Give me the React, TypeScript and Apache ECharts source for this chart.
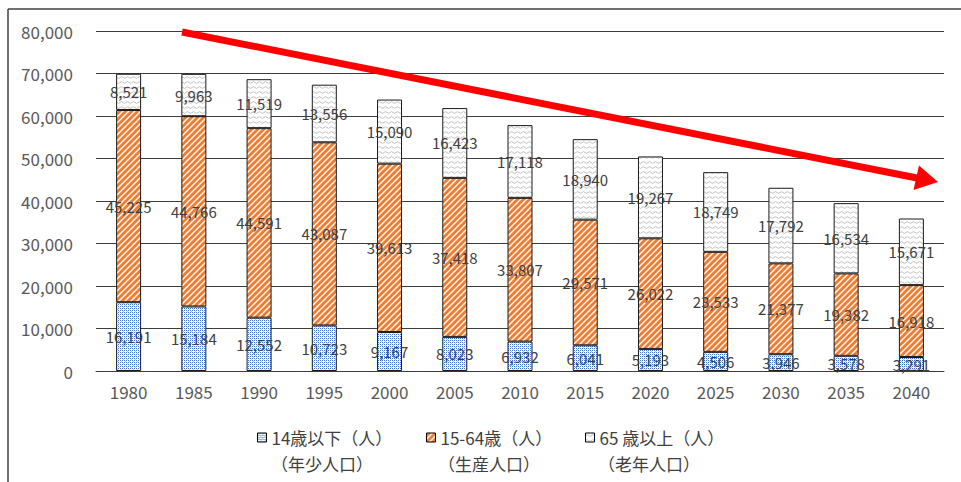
import React, { useEffect, useRef } from "react";
import * as echarts from "echarts";

const years = ["1980", "1985", "1990", "1995", "2000", "2005", "2010", "2015", "2020", "2025", "2030", "2035", "2040"];
const young = [16191, 15184, 12552, 10723, 9167, 8023, 6932, 6041, 5193, 4506, 3946, 3578, 3291];
const working = [45225, 44766, 44591, 43087, 39613, 37418, 33807, 29571, 26022, 23533, 21377, 19382, 16918];
const elderly = [8521, 9963, 11519, 13556, 15090, 16423, 17118, 18940, 19267, 18749, 17792, 16534, 15671];
const seriesNames = ["14歳以下（人）", "15-64歳（人）", "65 歳以上（人）"];
const subNames = ["（年少人口）", "（生産人口）", "（老年人口）"];

const FONT = '"Noto Sans CJK JP", "Noto Sans", sans-serif';

function svgUrl(svg: string) {
  return "data:image/svg+xml;charset=utf-8," + encodeURIComponent(svg);
}

const dotPattern = {
  image: svgUrl(
    '<svg xmlns="http://www.w3.org/2000/svg" width="4" height="4"><rect width="4" height="4" fill="#ffffff"/>' +
      '<rect x="0" y="0" width="1" height="1" fill="#4472c4"/><rect x="2" y="0" width="1" height="1" fill="#4472c4"/>' +
      '<rect x="0" y="2" width="1" height="1" fill="#4472c4"/><rect x="2" y="2" width="1" height="1" fill="#4472c4"/>' +
      '<rect x="1" y="1" width="1" height="1" fill="#b4c6e7"/><rect x="3" y="3" width="1" height="1" fill="#b4c6e7"/></svg>'
  ),
  imageWidth: 4,
  imageHeight: 4,
  repeat: "repeat",
};

const stripePattern = {
  image: svgUrl(
    '<svg xmlns="http://www.w3.org/2000/svg" width="6" height="6"><rect width="6" height="6" fill="#ed7d31"/><path d="M-1,1 L1,-1 M0,6 L6,0 M5,7 L7,5" stroke="#ffffff" stroke-width="1.4"/></svg>'
  ),
  imageWidth: 6,
  imageHeight: 6,
  repeat: "repeat",
};

const wavePattern = {
  image: svgUrl(
    '<svg xmlns="http://www.w3.org/2000/svg" width="6" height="5"><rect width="6" height="5" fill="#ffffff"/><path d="M0,2.5 Q1.5,0.8 3,2.5 T6,2.5" fill="none" stroke="#b8b8b8" stroke-width="0.9"/></svg>'
  ),
  imageWidth: 6,
  imageHeight: 5,
  repeat: "repeat",
};

const patterns = [dotPattern, stripePattern, wavePattern];
const datasets = [young, working, elderly];

function fmt(v: number) {
  return v.toLocaleString("en-US");
}

export default function App() {
  const ref = useRef<HTMLDivElement>(null);

  useEffect(() => {
    document.body.style.margin = "0";
    if (!ref.current) return;
    const chart = echarts.init(ref.current, undefined, { renderer: "svg" });

    const legendLefts = [252, 421, 580];
    const subLefts = [271, 438, 598];

    const option: any = {
      animation: false,
      backgroundColor: "#ffffff",
      textStyle: { fontFamily: FONT },
      grid: { left: 96, right: 17, top: 31, bottom: 111, containLabel: false },
      xAxis: {
        type: "category",
        data: years,
        axisTick: { show: false },
        axisLine: { lineStyle: { color: "#3c3c3c", width: 1 } },
        axisLabel: { color: "#595959", fontSize: 17, fontFamily: FONT, margin: 12 },
      },
      yAxis: {
        type: "value",
        min: 0,
        max: 80000,
        interval: 10000,
        axisLine: { show: false },
        axisTick: { show: false },
        splitLine: { lineStyle: { color: "#3c3c3c", width: 1 } },
        axisLabel: {
          color: "#595959",
          fontSize: 17,
          fontFamily: FONT,
          margin: 23,
          formatter: (v: number) => fmt(v),
        },
      },
      legend: seriesNames.map((n, i) => ({
        data: [n],
        left: legendLefts[i],
        top: 424,
        itemWidth: 9,
        itemHeight: 9,
        itemGap: 6,
        icon: "rect",
        textStyle: { color: "#404040", fontSize: 17, fontFamily: FONT },
        itemStyle: { borderColor: "#000", borderWidth: 1 },
        selectedMode: false,
      })),
      series: seriesNames.map((n, i) => ({
        name: n,
        type: "bar",
        stack: "total",
        barWidth: 25,
        data: datasets[i],
        itemStyle: { color: patterns[i], borderColor: "#1a1a1a", borderWidth: 1 },
        label: {
          show: true,
          position: "inside",
          color: "#404040",
          fontSize: 15,
          fontFamily: FONT,
          formatter: (p: any) => fmt(p.value),
        },
      })),
      graphic: [
        {
          type: "line",
          shape: { x1: 8, y1: 9, x2: 961, y2: 9 },
          style: { stroke: "#404040", lineWidth: 1.5 },
          silent: true,
        },
        {
          type: "line",
          shape: { x1: 8, y1: 9, x2: 8, y2: 482 },
          style: { stroke: "#404040", lineWidth: 1.5 },
          silent: true,
        },
        {
          type: "line",
          shape: { x1: 182, y1: 32, x2: 917, y2: 178 },
          style: { stroke: "#ff0000", lineWidth: 7 },
          silent: true,
          z: 100,
        },
        {
          type: "polygon",
          shape: { points: [[938, 182], [919, 165.5], [913.5, 190]] },
          style: { fill: "#ff0000" },
          silent: true,
          z: 100,
        },
        ...subNames.map((s, i) => ({
          type: "text",
          x: subLefts[i],
          y: 463,
          style: {
            text: s,
            fill: "#404040",
            fontSize: 17,
            fontFamily: FONT,
            verticalAlign: "middle",
          },
          silent: true,
        })),
      ],
    };

    chart.setOption(option);
    return () => chart.dispose();
  }, []);

  return <div ref={ref} style={{ width: 961, height: 482 }} />;
}
